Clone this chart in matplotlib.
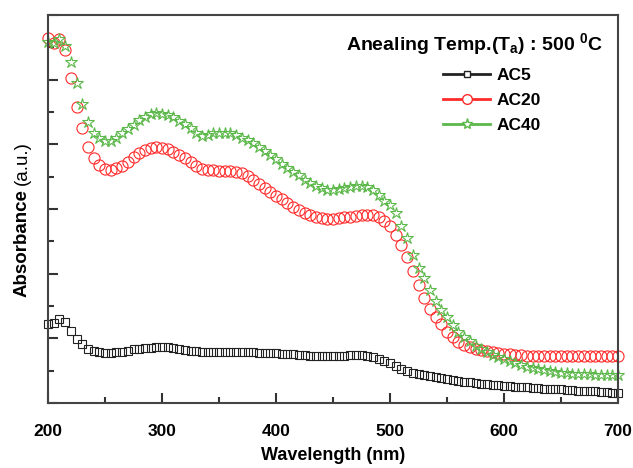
import matplotlib
matplotlib.use('Agg')
import matplotlib.pyplot as plt
import matplotlib.transforms as mtransforms
from matplotlib.lines import Line2D
from matplotlib.ticker import MultipleLocator

plt.rcParams['font.family'] = ['Liberation Sans', 'DejaVu Sans']
plt.rcParams['mathtext.fontset'] = 'custom'
plt.rcParams['mathtext.rm'] = 'Liberation Sans:bold'
plt.rcParams['mathtext.it'] = 'Liberation Sans:bold'
plt.rcParams['mathtext.bf'] = 'Liberation Sans:bold'

# wavelength grid (nm), one point every 5 nm
wavelength = list(range(200, 705, 5))

ac5 = [1.22, 1.24, 1.30, 1.25, 1.11, 0.99, 0.91, 0.84, 0.80, 0.79,
       0.77, 0.77, 0.79, 0.79, 0.80, 0.84, 0.84, 0.85, 0.85, 0.87,
       0.87, 0.87, 0.85, 0.84, 0.82, 0.80, 0.80, 0.79, 0.79, 0.79,
       0.79, 0.79, 0.79, 0.79, 0.79, 0.79, 0.79, 0.77, 0.77, 0.77,
       0.77, 0.76, 0.76, 0.76, 0.74, 0.74, 0.73, 0.73, 0.73, 0.73,
       0.73, 0.73, 0.73, 0.74, 0.74, 0.74, 0.73, 0.71, 0.68, 0.65,
       0.62, 0.57, 0.53, 0.49, 0.46, 0.45, 0.43, 0.42, 0.40, 0.39,
       0.37, 0.36, 0.34, 0.32, 0.32, 0.31, 0.29, 0.29, 0.28, 0.28,
       0.26, 0.26, 0.25, 0.25, 0.24, 0.23, 0.23, 0.22, 0.22, 0.21,
       0.21, 0.20, 0.20, 0.19, 0.19, 0.18, 0.18, 0.17, 0.17, 0.16,
       0.16]

ac20 = [5.64, 5.57, 5.63, 5.46, 5.03, 4.58, 4.25, 3.96, 3.79, 3.68,
        3.62, 3.60, 3.63, 3.66, 3.73, 3.80, 3.87, 3.91, 3.94, 3.96,
        3.94, 3.93, 3.88, 3.84, 3.79, 3.73, 3.67, 3.62, 3.60, 3.60,
        3.59, 3.59, 3.59, 3.57, 3.56, 3.51, 3.45, 3.39, 3.32, 3.26,
        3.20, 3.16, 3.09, 3.03, 2.98, 2.94, 2.91, 2.88, 2.86, 2.85,
        2.85, 2.86, 2.88, 2.88, 2.89, 2.91, 2.91, 2.91, 2.88, 2.81,
        2.74, 2.60, 2.44, 2.26, 2.04, 1.83, 1.62, 1.45, 1.33, 1.22,
        1.10, 1.02, 0.94, 0.90, 0.87, 0.84, 0.82, 0.80, 0.79, 0.77,
        0.76, 0.76, 0.74, 0.74, 0.73, 0.73, 0.73, 0.73, 0.73, 0.73,
        0.72, 0.72, 0.72, 0.72, 0.72, 0.72, 0.72, 0.72, 0.72, 0.72,
        0.72]

ac40 = [5.58, 5.57, 5.63, 5.52, 5.27, 4.95, 4.62, 4.34, 4.18, 4.10,
        4.05, 4.05, 4.10, 4.18, 4.24, 4.30, 4.38, 4.42, 4.47, 4.48,
        4.47, 4.45, 4.42, 4.36, 4.31, 4.25, 4.18, 4.13, 4.14, 4.18,
        4.18, 4.18, 4.18, 4.14, 4.10, 4.07, 4.02, 3.96, 3.90, 3.83,
        3.77, 3.69, 3.63, 3.57, 3.53, 3.45, 3.40, 3.36, 3.32, 3.29,
        3.29, 3.31, 3.32, 3.34, 3.36, 3.36, 3.34, 3.29, 3.22, 3.12,
        3.06, 2.94, 2.74, 2.55, 2.29, 2.09, 1.93, 1.75, 1.58, 1.44,
        1.33, 1.21, 1.10, 1.02, 0.96, 0.88, 0.84, 0.79, 0.74, 0.71,
        0.68, 0.65, 0.62, 0.59, 0.56, 0.54, 0.53, 0.51, 0.49, 0.48,
        0.46, 0.46, 0.45, 0.45, 0.45, 0.45, 0.43, 0.43, 0.43, 0.43,
        0.43]

labels = ['AC5', 'AC20', 'AC40']
colors = ['#222222', '#ff2a2a', '#5cb84a']
markers = ['s', 'o', '*']
msizes = [5.2, 8, 9]

fig = plt.figure(figsize=(6.33, 4.68), dpi=100)
ax = fig.add_axes([48 / 633, 65 / 468, 570 / 633, 388 / 468])

handles = []
for y, lab, c, m, ms in zip([ac5, ac20, ac40], labels, colors, markers, msizes):
    ax.plot(wavelength, y, linestyle='none', marker=m, ms=ms, mfc='none',
            mec=c, mew=0.8, clip_on=False)
    handles.append(Line2D([], [], color=c, lw=2, marker=m, ms=ms - 1,
                          mfc='white', mec=c, mew=1.0, label=lab))

ax.set_xlim(200, 700)
ax.set_ylim(0, 6)
ax.xaxis.set_major_locator(MultipleLocator(100))
ax.xaxis.set_minor_locator(MultipleLocator(50))
ax.yaxis.set_major_locator(MultipleLocator(1))
ax.yaxis.set_minor_locator(MultipleLocator(0.5))
ax.tick_params(which='both', direction='in', width=1.5, color='#333333')
ax.tick_params(which='major', length=7)
ax.tick_params(which='minor', length=4)
ax.tick_params(axis='y', labelleft=False)
ax.tick_params(axis='x', labelsize=12.5, pad=15)
for lbl in ax.get_xticklabels():
    lbl.set_fontweight('bold')
# end labels sit a bit lower, as in the original
shift = mtransforms.ScaledTranslation(0, -6 / 100, fig.dpi_scale_trans)
xl = ax.get_xticklabels()
for lbl in (xl[0], xl[-1]):
    lbl.set_transform(lbl.get_transform() + shift)

for sp in ax.spines.values():
    sp.set_linewidth(1.5)
    sp.set_color('#444444')

ax.set_xlabel('Wavelength (nm)', fontsize=13, fontweight='bold', labelpad=6)

# y label: bold word followed by regular unit
t1 = fig.text(22 / 633, 1 - 297 / 468, 'Absorbance', rotation=90, fontsize=13.5,
              fontweight='bold', ha='center', va='bottom')
fig.canvas.draw()
bb = t1.get_window_extent()
fig.text(22 / 633, (bb.y1 + 4) / 468, '(a.u.)', rotation=90, fontsize=13.5,
         ha='center', va='bottom')

ax.text(0.749, 0.925, r'Anealing Temp.(T$_\mathrm{a}$) : 500 $^\mathrm{0}$C',
        transform=ax.transAxes, fontsize=14, fontweight='bold',
        ha='center', va='center')
ax.legend(handles=handles, loc='upper left', bbox_to_anchor=(0.678, 0.885),
          frameon=False, borderpad=0, handlelength=2.7, handletextpad=0.35,
          labelspacing=0.55, prop={'weight': 'bold', 'size': 12.5})

fig.savefig('out.png', dpi=100)
